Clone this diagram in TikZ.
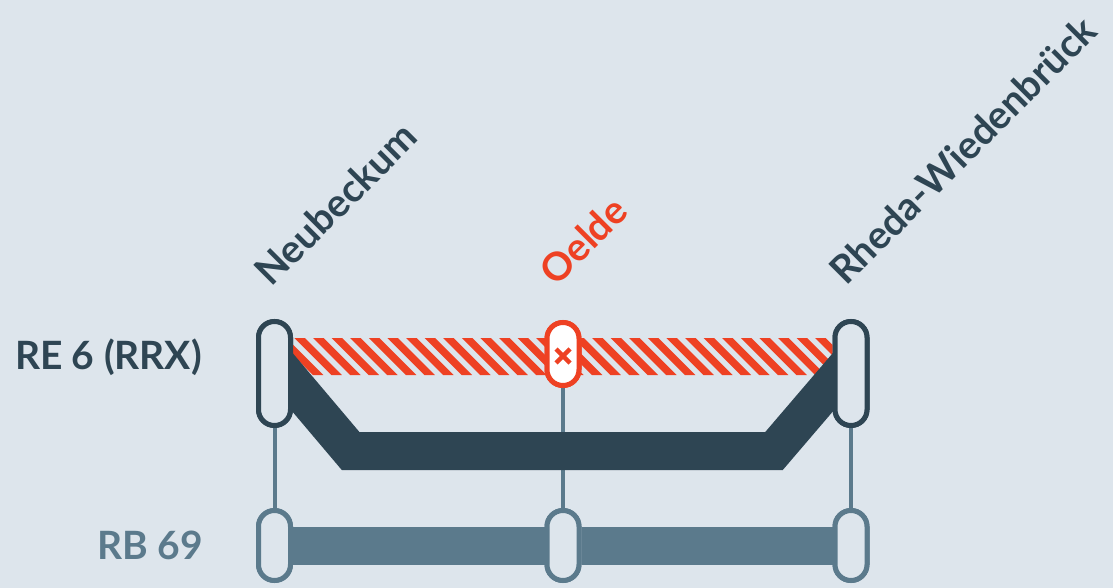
\documentclass[tikz,border=0pt]{standalone}
\usepackage{fontspec}
\setmainfont{Lato}
\definecolor{bgcol}{HTML}{DDE5EC}
\definecolor{darkline}{HTML}{2E4553}
\definecolor{slateline}{HTML}{5B7A8C}
\definecolor{closedred}{HTML}{EE4123}

\begin{document}
\begin{tikzpicture}[x=1pt,y=-1pt,
	pill/.style={draw=darkline,fill=bgcol,line width=5pt,rounded corners=16pt,
		minimum width=32pt,inner sep=0pt},
	station/.style={rotate=45,anchor=base west,inner sep=0pt,
		font=\fontsize{39}{46}\selectfont\bfseries},
	linelabel/.style={anchor=base east,inner sep=0pt,
		font=\fontsize{39}{46}\selectfont\bfseries}]
	\useasboundingbox[fill=bgcol] (0,0) rectangle (1113,588);

	% stops
	\node[pill,minimum height=104pt] (neu) at (274.5,373.5) {};
	\node[pill,minimum height=63pt,draw=closedred,fill=white] (oel) at (563,354) {};
	\node[pill,minimum height=104pt] (rhe) at (851,373.5) {};
	\node[pill,minimum height=70pt,draw=slateline] (neuB) at (274.5,545.5) {};
	\node[pill,minimum height=70pt,draw=slateline] (oelB) at (563,545.5) {};
	\node[pill,minimum height=70pt,draw=slateline] (rheB) at (851,545.5) {};

	% connectors between the two lines
	\draw[slateline,line width=4pt] (neu.south) -- (neuB.north);
	\draw[slateline,line width=4pt] (oel.south) -- (oelB.north);
	\draw[slateline,line width=4pt] (rhe.south) -- (rheB.north);

	% RB 69
	\draw[slateline,line width=38pt] (neuB.east) -- (oelB.west);
	\draw[slateline,line width=38pt] (oelB.east) -- (rheB.west);

	% closed section
	\begin{scope}
		\clip (neu.east |- 0,338) rectangle (rhe.west |- 0,375);
		\foreach \i in {-3,...,30}
			\fill[closedred] ({313+\i*18.6},338) -- ++(10.5,0) -- ++(37,37) -- ++(-10.5,0) -- cycle;
	\end{scope}

	% RE 6 detour
	\draw[darkline,line width=38pt,line join=miter]
		([yshift=12.5pt]neu.center) -- (350.6,451) -- (774,451) -- ([yshift=12.5pt]rhe.center);

	% stops on top again
	\node[pill,minimum height=104pt] at (neu) {};
	\node[pill,minimum height=63pt,draw=closedred,fill=white] at (oel) {};
	\node[pill,minimum height=104pt] at (rhe) {};
	\node[pill,minimum height=70pt,draw=slateline] at (neuB) {};
	\node[pill,minimum height=70pt,draw=slateline] at (oelB) {};
	\node[pill,minimum height=70pt,draw=slateline] at (rheB) {};
	\draw[closedred,line width=4.5pt] ([shift={(-7,-5)}]oel.center) -- ([shift={(7,9)}]oel.center)
		([shift={(7,-5)}]oel.center) -- ([shift={(-7,9)}]oel.center);

	% labels
	\node[station,darkline] (neuL) at (271.5,288) {Neubeckum};
	\node[station,closedred] (oelL) at (556,288) {Oelde};
	\node[station,darkline] (rheL) at (846,287) {Rheda-Wiedenbrück};
	\node[linelabel,darkline] (re6) at (202,369) {RE 6 (RRX)};
	\node[linelabel,slateline] (rb69) at (203,559) {RB 69};
\end{tikzpicture}
\end{document}
